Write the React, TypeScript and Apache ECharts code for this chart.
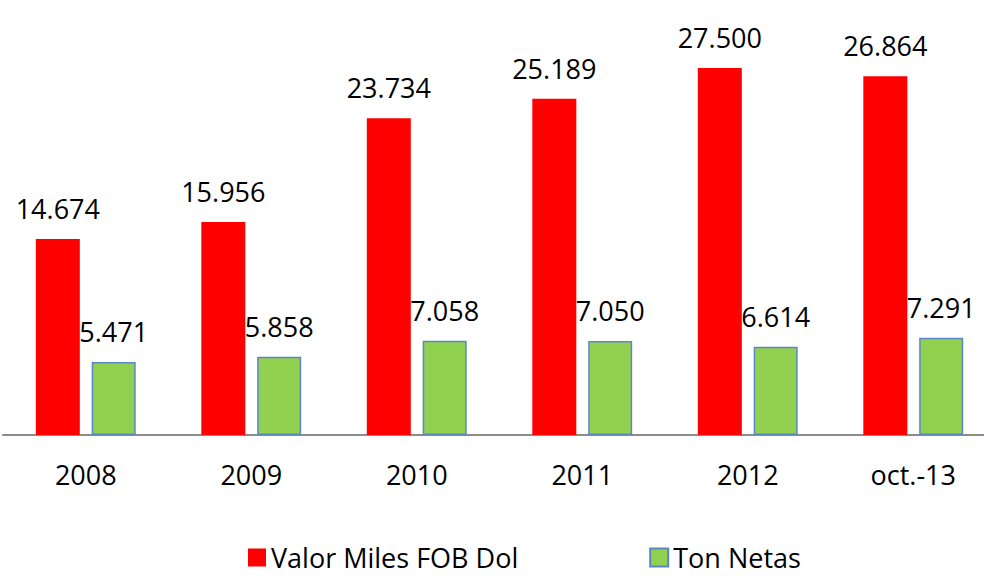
import React, { useEffect, useRef } from "react";
import * as echarts from "echarts";

const categories = ["2008", "2009", "2010", "2011", "2012", "oct.-13"];
const valorMilesFOB = [14674, 15956, 23734, 25189, 27500, 26864];
const tonNetas = [5471, 5858, 7058, 7050, 6614, 7291];
const seriesNames = ["Valor Miles FOB Dol", "Ton Netas"];

const fmt = (v: number) => {
  const s = String(Math.round(v));
  return s.replace(/\B(?=(\d{3})+(?!\d))/g, ".");
};

const FONT = "'Open Sans', 'Liberation Sans', sans-serif";

export default function App() {
  const ref = useRef<HTMLDivElement>(null);
  useEffect(() => {
    if (!ref.current) return;
    const chart = echarts.init(ref.current, undefined, { renderer: "svg" });
    const label = {
      show: true,
      position: "top" as const,
      distance: 17,
      fontFamily: FONT,
      fontSize: 27,
      color: "#000",
      formatter: (p: any) => fmt(p.value),
    };
    chart.setOption({
      animation: false,
      backgroundColor: "#fff",
      grid: { left: 3, top: 34.5, right: 4, height: 400.5, containLabel: false },
      legend: {
        left: 243,
        top: 539,
        itemWidth: 18,
        itemHeight: 18,
        itemGap: 131,
        textStyle: { fontFamily: FONT, fontSize: 27, color: "#000", lineHeight: 27 },
        data: seriesNames.map((n) => ({ name: n, icon: "rect" })),
      },
      xAxis: {
        type: "category",
        data: categories,
        axisTick: { show: false },
        axisLine: { lineStyle: { color: "#8c8c8c", width: 2 } },
        axisLabel: { margin: 26, fontFamily: FONT, fontSize: 27, color: "#000" },
      },
      yAxis: {
        type: "value",
        min: 0,
        max: 30000,
        show: false,
        splitLine: { show: false },
      },
      series: [
        {
          name: seriesNames[0],
          type: "bar",
          data: valorMilesFOB,
          barWidth: 44,
          barGap: "27%",
          itemStyle: { color: "#FF0000" },
          label,
        },
        {
          name: seriesNames[1],
          type: "bar",
          data: tonNetas,
          barWidth: 44,
          barGap: "27%",
          itemStyle: { color: "#92D050", borderColor: "#5B86C5", borderWidth: 1.5 },
          label,
        },
      ],
    });
    return () => chart.dispose();
  }, []);
  return (
    <div
      style={{
        position: "absolute",
        left: 0,
        top: 0,
        width: 984,
        height: 576,
        overflow: "hidden",
        background: "#fff",
      }}
    >
      <div ref={ref} style={{ width: 1000, height: 576 }} />
    </div>
  );
}
